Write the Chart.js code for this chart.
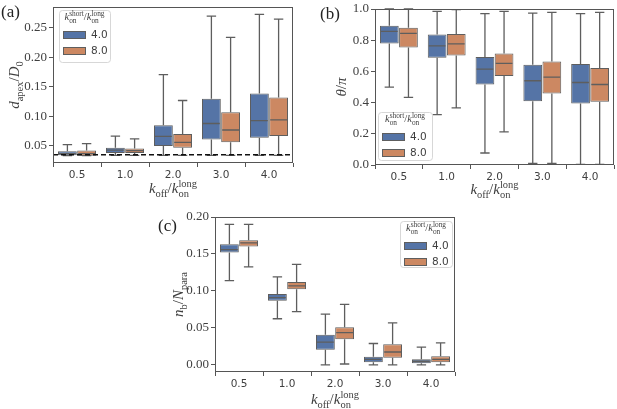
<!DOCTYPE html>
<html>
<head>
<meta charset="utf-8">
<script src="https://cdn.jsdelivr.net/npm/chart.js@4.4.1/dist/chart.umd.min.js"></script>
<style>
  html, body { margin: 0; padding: 0; background: #fff; }
  #wrap { position: relative; width: 617px; height: 409px; overflow: hidden; }
  .panel { position: absolute; }
</style>
</head>
<body>
<div id="wrap">
  <div class="panel" style="left:0;top:0;width:305px;height:200px"><canvas id="chartA"></canvas></div>
  <div class="panel" style="left:305px;top:0;width:312px;height:200px"><canvas id="chartB"></canvas></div>
  <div class="panel" style="left:150px;top:200px;width:320px;height:209px"><canvas id="chartC"></canvas></div>
</div>
<script>
const categories = ["0.5", "1.0", "2.0", "3.0", "4.0"];
const seriesNames = ["4.0", "8.0"];

// panel (a): d_apex / D_0
const aLo4 = [0.0335, 0.034, 0.034, 0.034, 0.034];
const aQ1_4 = [0.034, 0.038, 0.050, 0.061, 0.064];
const aMed4 = [0.037, 0.043, 0.066, 0.088, 0.093];
const aQ3_4 = [0.041, 0.047, 0.085, 0.130, 0.139];
const aHi4 = [0.052, 0.0665, 0.171, 0.270, 0.273];
const aLo8 = [0.0335, 0.034, 0.034, 0.034, 0.034];
const aQ1_8 = [0.0335, 0.038, 0.047, 0.056, 0.067];
const aMed8 = [0.037, 0.042, 0.056, 0.077, 0.094];
const aQ3_8 = [0.042, 0.0455, 0.070, 0.107, 0.132];
const aHi8 = [0.054, 0.062, 0.127, 0.234, 0.265];
const aTicks = [0.05, 0.10, 0.15, 0.20, 0.25];
const aRefLine = 0.035;

// panel (b): theta / pi
const bLo4 = [0.499, 0.323, 0.077, 0.011, 0.004];
const bQ1_4 = [0.779, 0.687, 0.516, 0.409, 0.394];
const bMed4 = [0.856, 0.764, 0.615, 0.540, 0.529];
const bQ3_4 = [0.893, 0.837, 0.692, 0.642, 0.647];
const bHi4 = [1.0, 0.985, 0.970, 0.974, 0.970];
const bLo8 = [0.433, 0.366, 0.212, 0.011, 0.004];
const bQ1_8 = [0.754, 0.702, 0.570, 0.458, 0.405];
const bMed8 = [0.844, 0.777, 0.651, 0.563, 0.516];
const bQ3_8 = [0.880, 0.839, 0.715, 0.664, 0.621];
const bHi8 = [1.0, 0.996, 0.985, 0.979, 0.979];
const bTicks = [0.0, 0.2, 0.4, 0.6, 0.8, 1.0];

// panel (c): n_b / N_para
const cLo4 = [0.114, 0.0625, 0.0, 0.0, 0.0];
const cQ1_4 = [0.152, 0.0867, 0.0207, 0.0036, 0.0022];
const cMed4 = [0.156, 0.091, 0.031, 0.0076, 0.005];
const cQ3_4 = [0.163, 0.096, 0.041, 0.011, 0.0076];
const cHi4 = [0.190, 0.119, 0.0688, 0.029, 0.024];
const cLo8 = [0.1326, 0.072, 0.0013, 0.0, 0.0];
const cQ1_8 = [0.160, 0.1025, 0.0346, 0.0099, 0.0036];
const cMed8 = [0.165, 0.107, 0.0436, 0.0175, 0.0076];
const cQ3_8 = [0.1685, 0.112, 0.051, 0.028, 0.0117];
const cHi8 = [0.190, 0.136, 0.082, 0.057, 0.030];
const cTicks = [0.00, 0.05, 0.10, 0.15, 0.20];

const BLUE = "#5574a6";
const ORANGE = "#cc8862";
const LINE = "#5e5e5e";
const FRAME = "#555555";
const TEXT = "#3f3f3f";
const SERIF = '"Liberation Serif", "DejaVu Serif", serif';
const SANS = '"DejaVu Sans", sans-serif';

// math-ish labels: [text, style]; i = italic, r = roman, _ = subscript, ^s = superscript stacked over previous subscript
const xLabelParts = [["k", "i"], ["off", "_"], ["/", "r"], ["k", "i"], ["on", "_"], ["long", "^s"]];
const legendTitleParts = [["k", "i"], ["on", "_"], ["short", "^s"], ["/", "r"], ["k", "i"], ["on", "_"], ["long", "^s"]];

function richFont(style, size) {
  const small = style === "_" || style === "^s";
  const px = small ? size * 0.7 : size;
  return (style === "i" ? "italic " : "") + px + "px " + SERIF;
}

function layoutRich(ctx, parts, size) {
  let x = 0;
  let subStart = 0;
  let subW = 0;
  const items = [];
  parts.forEach(([t, st]) => {
    ctx.font = richFont(st, size);
    const w = ctx.measureText(t).width;
    let dy = 0;
    if (st === "_") {
      dy = size * 0.25;
      subStart = x;
      subW = w;
    }
    if (st === "^s") {
      dy = -size * 0.42;
      x = subStart;
    }
    items.push({ t, st, x, dy });
    x = st === "^s" ? subStart + Math.max(w, subW) : x + w;
  });
  return { items, width: x };
}

function drawRich(ctx, parts, cx, cy, size, rotate) {
  ctx.save();
  ctx.translate(cx, cy);
  if (rotate) ctx.rotate(-Math.PI / 2);
  const layout = layoutRich(ctx, parts, size);
  ctx.fillStyle = TEXT;
  ctx.textBaseline = "alphabetic";
  ctx.textAlign = "left";
  layout.items.forEach((it) => {
    ctx.font = richFont(it.st, size);
    ctx.fillText(it.t, it.x - layout.width / 2, it.dy);
  });
  ctx.restore();
}

const boxPlugin = {
  id: "boxWhiskers",
  afterDatasetsDraw(chart, args, opts) {
    const ctx = chart.ctx;
    const yScale = chart.scales.y;
    const area = chart.chartArea;
    chart.data.datasets.forEach((ds, di) => {
      const meta = chart.getDatasetMeta(di);
      meta.data.forEach((bar, i) => {
        const { x, width } = bar.getProps(["x", "width"], true);
        const pQ1 = yScale.getPixelForValue(ds.data[i][0]);
        const pQ3 = yScale.getPixelForValue(ds.data[i][1]);
        const pLo = yScale.getPixelForValue(ds.lo[i]);
        const pHi = yScale.getPixelForValue(ds.hi[i]);
        const pMed = yScale.getPixelForValue(ds.med[i]);
        const cap = width * 0.25;
        ctx.save();
        ctx.strokeStyle = LINE;
        ctx.lineWidth = 1.3;
        ctx.beginPath();
        ctx.moveTo(x, pQ3);
        ctx.lineTo(x, pHi);
        ctx.moveTo(x, pQ1);
        ctx.lineTo(x, pLo);
        ctx.moveTo(x - cap, pHi);
        ctx.lineTo(x + cap, pHi);
        ctx.moveTo(x - cap, pLo);
        ctx.lineTo(x + cap, pLo);
        ctx.moveTo(x - width / 2 + 1, pMed);
        ctx.lineTo(x + width / 2 - 1, pMed);
        ctx.stroke();
        ctx.restore();
      });
    });
    if (opts.refLine !== undefined) {
      const py = yScale.getPixelForValue(opts.refLine);
      ctx.save();
      ctx.strokeStyle = "#111";
      ctx.lineWidth = 1.4;
      ctx.setLineDash([5, 3]);
      ctx.beginPath();
      ctx.moveTo(area.left, py);
      ctx.lineTo(area.right, py);
      ctx.stroke();
      ctx.restore();
    }
  }
};

const decorPlugin = {
  id: "decor",
  afterDraw(chart, args, opts) {
    const ctx = chart.ctx;
    const area = chart.chartArea;
    // frame
    ctx.save();
    ctx.strokeStyle = FRAME;
    ctx.lineWidth = 1;
    ctx.strokeRect(area.left + 0.5, area.top + 0.5, area.right - area.left - 1, area.bottom - area.top - 1);
    ctx.restore();

    // panel tag
    ctx.save();
    ctx.fillStyle = "#222";
    ctx.font = "17px " + SERIF;
    ctx.textBaseline = "alphabetic";
    ctx.fillText(opts.tag, opts.tagX, opts.tagY);
    ctx.restore();

    // axis labels
    drawRich(ctx, opts.yLabel, opts.yLabelX, (area.top + area.bottom) / 2, 15, true);
    drawRich(ctx, xLabelParts, (area.left + area.right) / 2, opts.xLabelY, 15, false);

    // legend
    const lg = opts.legend;
    ctx.save();
    ctx.globalAlpha = 0.85;
    ctx.fillStyle = "#fff";
    ctx.strokeStyle = "#d0d0d0";
    ctx.lineWidth = 1;
    ctx.beginPath();
    ctx.roundRect(lg.x + 0.5, lg.y + 0.5, lg.w, lg.h, 3);
    ctx.fill();
    ctx.stroke();
    ctx.restore();
    drawRich(ctx, legendTitleParts, lg.x + lg.w / 2, lg.y + 10, 10.5, false);
    const colors = [BLUE, ORANGE];
    seriesNames.forEach((name, k) => {
      const ry = lg.y + 21 + k * 16;
      ctx.save();
      ctx.fillStyle = colors[k];
      ctx.strokeStyle = LINE;
      ctx.lineWidth = 1;
      ctx.fillRect(lg.x + 4, ry, 23, 8);
      ctx.strokeRect(lg.x + 4.5, ry + 0.5, 22, 7);
      ctx.fillStyle = TEXT;
      ctx.font = "10.5px " + SANS;
      ctx.textBaseline = "middle";
      ctx.fillText(name, lg.x + 32, ry + 4.5);
      ctx.restore();
    });
  }
};

function makePanel(canvasId, p) {
  const ctxEl = document.getElementById(canvasId);
  return new Chart(ctxEl, {
    type: "bar",
    data: {
      labels: categories,
      datasets: [
        {
          label: seriesNames[0],
          data: p.q1[0].map((v, i) => [v, p.q3[0][i]]),
          lo: p.lo[0],
          med: p.med[0],
          hi: p.hi[0],
          backgroundColor: BLUE,
          borderColor: LINE,
          borderWidth: 1,
          borderSkipped: false
        },
        {
          label: seriesNames[1],
          data: p.q1[1].map((v, i) => [v, p.q3[1][i]]),
          lo: p.lo[1],
          med: p.med[1],
          hi: p.hi[1],
          backgroundColor: ORANGE,
          borderColor: LINE,
          borderWidth: 1,
          borderSkipped: false
        }
      ]
    },
    options: {
      responsive: true,
      maintainAspectRatio: false,
      animation: false,
      events: [],
      layout: { padding: p.padding },
      datasets: { bar: { categoryPercentage: 0.8, barPercentage: 0.98 } },
      plugins: {
        legend: { display: false },
        tooltip: { enabled: false },
        boxWhiskers: { refLine: p.refLine },
        decor: p.decor
      },
      scales: {
        x: {
          grid: { drawOnChartArea: false, drawTicks: true, tickLength: 4, color: FRAME },
          border: { display: false },
          ticks: { color: TEXT, font: { family: SANS, size: 10.5 }, padding: 2 },
          afterFit: (axis) => {
            axis.height = p.xAxisH;
            axis.paddingLeft = 0;
            axis.paddingRight = 0;
          }
        },
        y: {
          min: p.yMin,
          max: p.yMax,
          grid: { drawOnChartArea: false, drawTicks: true, tickLength: 4, color: FRAME },
          border: { display: false },
          afterBuildTicks: (axis) => { axis.ticks = p.ticks.map((v) => ({ value: v })); },
          ticks: {
            color: TEXT,
            font: { family: SERIF, size: 13 },
            padding: 2,
            callback: (v) => Number(v).toFixed(p.decimals)
          },
          afterFit: (axis) => {
            axis.width = p.yAxisW;
            axis.paddingTop = 0;
            axis.paddingBottom = 0;
          }
        }
      }
    },
    plugins: [boxPlugin, decorPlugin]
  });
}

makePanel("chartA", {
  lo: [aLo4, aLo8], q1: [aQ1_4, aQ1_8], med: [aMed4, aMed8], q3: [aQ3_4, aQ3_8], hi: [aHi4, aHi8],
  yMin: 0.021, yMax: 0.2856, ticks: aTicks, decimals: 2, refLine: aRefLine,
  padding: { left: 0, right: 12, top: 7, bottom: 0 }, yAxisW: 53, xAxisH: 37,
  decor: {
    tag: "(a)", tagX: 1, tagY: 17,
    yLabel: [["d", "i"], ["apex", "_"], ["/", "r"], ["D", "i"], ["0", "_"]], yLabelX: 19,
    xLabelY: 193,
    legend: { x: 59, y: 10, w: 51, h: 52 }
  }
});

makePanel("chartB", {
  lo: [bLo4, bLo8], q1: [bQ1_4, bQ1_8], med: [bMed4, bMed8], q3: [bQ3_4, bQ3_8], hi: [bHi4, bHi8],
  yMin: 0, yMax: 1, ticks: bTicks, decimals: 1,
  padding: { left: 0, right: 3, top: 9, bottom: 0 }, yAxisW: 70, xAxisH: 35,
  decor: {
    tag: "(b)", tagX: 15, tagY: 19,
    yLabel: [["θ", "i"], ["/", "r"], ["π", "i"]], yLabelX: 41,
    xLabelY: 194,
    legend: { x: 73, y: 112, w: 54, h: 48 }
  }
});

makePanel("chartC", {
  lo: [cLo4, cLo8], q1: [cQ1_4, cQ1_8], med: [cMed4, cMed8], q3: [cQ3_4, cQ3_8], hi: [cHi4, cHi8],
  yMin: -0.0095, yMax: 0.2, ticks: cTicks, decimals: 2,
  padding: { left: 0, right: 15, top: 17, bottom: 0 }, yAxisW: 65, xAxisH: 37,
  decor: {
    tag: "(c)", tagX: 8, tagY: 31,
    yLabel: [["n", "i"], ["b", "_"], ["/", "r"], ["N", "i"], ["para", "_"]], yLabelX: 33,
    xLabelY: 204,
    legend: { x: 250, y: 21, w: 52, h: 46 }
  }
});
</script>
</body>
</html>
